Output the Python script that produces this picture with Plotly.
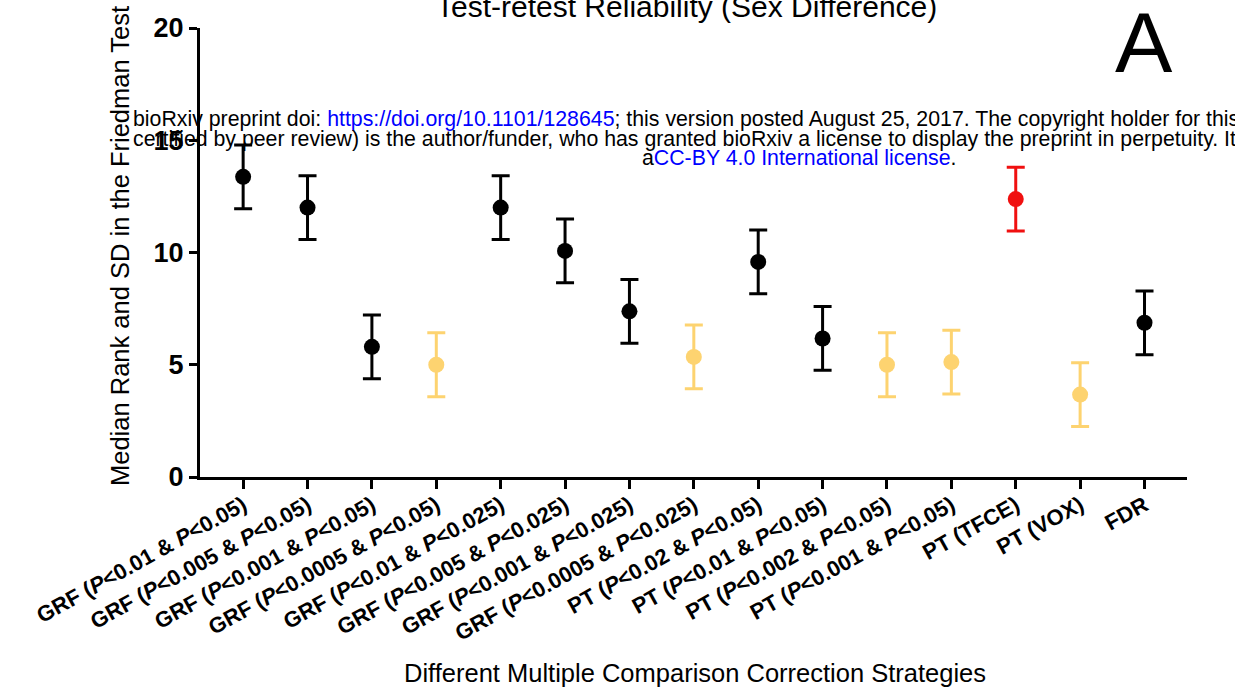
import plotly.graph_objects as go

categories = [
    "GRF (<i>P</i><0.01 & <i>P</i><0.05)",
    "GRF (<i>P</i><0.005 & <i>P</i><0.05)",
    "GRF (<i>P</i><0.001 & <i>P</i><0.05)",
    "GRF (<i>P</i><0.0005 & <i>P</i><0.05)",
    "GRF (<i>P</i><0.01 & <i>P</i><0.025)",
    "GRF (<i>P</i><0.005 & <i>P</i><0.025)",
    "GRF (<i>P</i><0.001 & <i>P</i><0.025)",
    "GRF (<i>P</i><0.0005 & <i>P</i><0.025)",
    "PT (<i>P</i><0.02 & <i>P</i><0.05)",
    "PT (<i>P</i><0.01 & <i>P</i><0.05)",
    "PT (<i>P</i><0.002 & <i>P</i><0.05)",
    "PT (<i>P</i><0.001 & <i>P</i><0.05)",
    "PT (TFCE)",
    "PT (VOX)",
    "FDR",
]
median_rank = [13.37, 12.0, 5.8, 5.0, 12.0, 10.07, 7.38, 5.35, 9.58, 6.17, 5.0, 5.12, 12.38, 3.67, 6.87]
sd_rank = [1.42, 1.42, 1.42, 1.42, 1.42, 1.42, 1.42, 1.42, 1.42, 1.42, 1.42, 1.42, 1.42, 1.42, 1.42]
group = ["black", "black", "black", "yellow", "black", "black", "black", "yellow",
         "black", "black", "yellow", "yellow", "red", "yellow", "black"]
group_colors = {"black": "#000000", "yellow": "#FDD370", "red": "#F01010"}
y_ticks = [0, 5, 10, 15, 20]

FONT = "Liberation Sans, Arial, sans-serif"

fig = go.Figure()
for g, col in group_colors.items():
    idx = [i for i, gg in enumerate(group) if gg == g]
    fig.add_trace(go.Scatter(
        x=idx,
        y=[median_rank[i] for i in idx],
        mode="markers",
        marker=dict(color=col, size=16, line=dict(width=0)),
        error_y=dict(type="data", array=[sd_rank[i] for i in idx], visible=True,
                     color=col, thickness=3, width=9),
        showlegend=False,
        hoverinfo="skip",
    ))

L, R, T, B = 200, 48, 28, 216
W, H = 1235, 693
pw, ph = W - L - R, H - T - B

def px(xp):
    return (xp - L) / pw

def py(yp):
    return (H - B - yp) / ph

fig.update_layout(
    width=W, height=H,
    margin=dict(l=L, r=R, t=T, b=B, pad=0),
    paper_bgcolor="white", plot_bgcolor="white",
    font=dict(family=FONT, color="black"),
    xaxis=dict(
        range=[-0.67, 14.66],
        tickvals=list(range(len(categories))),
        ticktext=["<b>" + c + "</b>" for c in categories],
        tickangle=-29,
        ticklabelstandoff=-5,
        tickfont=dict(size=22, family=FONT, color="black"),
        showline=True, linecolor="black", linewidth=3,
        ticks="outside", ticklen=9, tickwidth=3, tickcolor="black",
        showgrid=False, zeroline=False,
    ),
    yaxis=dict(
        range=[0, 20],
        tickvals=y_ticks,
        ticktext=["<b>%d</b>" % v for v in y_ticks],
        tickfont=dict(size=27, family=FONT, color="black"),
        showline=True, linecolor="black", linewidth=3,
        ticks="outside", ticklen=8, tickwidth=3, tickcolor="black",
        showgrid=False, zeroline=False,
    ),
)

annotations = [
    dict(text="Test-retest Reliability (Sex Difference)", x=px(686), y=py(7),
         font=dict(size=30)),
    dict(text="A", x=px(1144), y=py(42), font=dict(size=86)),
    dict(text="Median Rank and SD in the Friedman Test", x=px(120), y=py(246),
         textangle=-90, font=dict(size=25.5)),
    dict(text="Different Multiple Comparison Correction Strategies", x=px(695), y=py(673),
         font=dict(size=25.5)),
    dict(text="bioRxiv preprint doi: <span style='color:#0000FF'>https://doi.org/10.1101/128645</span>; "
              "this version posted August 25, 2017. The copyright holder for this",
         x=px(131), y=py(119), xanchor="left", font=dict(size=21.3)),
    dict(text="certified by peer review) is the author/funder, who has granted bioRxiv a license "
              "to display the preprint in perpetuity. It",
         x=px(131), y=py(139), xanchor="left", font=dict(size=21.3)),
    dict(text="a<span style='color:#0000FF'>CC-BY 4.0 International license</span>.",
         x=px(799), y=py(158), font=dict(size=21.3)),
]
for a in annotations:
    base = dict(xref="paper", yref="paper", showarrow=False, xanchor="center",
                yanchor="middle")
    base.update(a)
    base["font"] = dict(family=FONT, color="black", **a["font"])
    fig.add_annotation(**base)

fig.write_html("out.html")
